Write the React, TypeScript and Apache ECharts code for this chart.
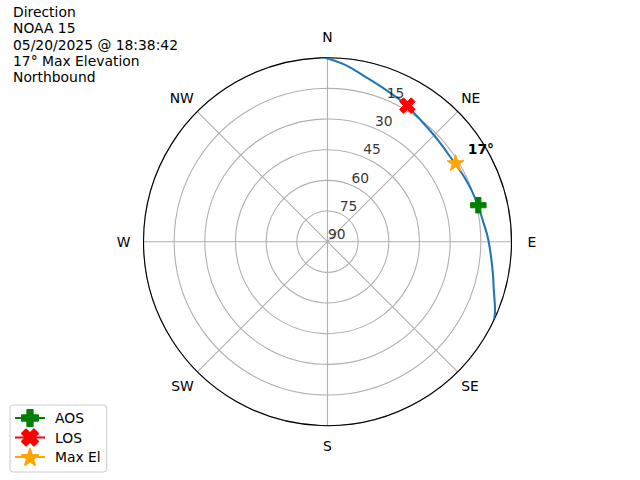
import React, { useEffect, useRef } from 'react';
import * as echarts from 'echarts';

const titleLines = ['Direction', 'NOAA 15', '05/20/2025 @ 18:38:42', '17° Max Elevation', 'Northbound'];
const directionLabels = ['N', 'NE', 'E', 'SE', 'S', 'SW', 'W', 'NW'];
const radiusTicks = [15, 30, 45, 60, 75, 90];
const labelAngle = 22.5;

const passAzimuth = [-0.8, 5.7, 12.8, 20.7, 27.1, 30.4, 37.2, 44.8, 51.1, 56.7, 60.5, 64.8, 70.3, 76.4, 82.0, 89.4, 99.7, 106.2, 112.2, 115.0];
const passElevation = [0, 3.1, 7.2, 10.3, 12.1, 13.0, 15.0, 16.3, 16.9, 17.0, 16.6, 16.0, 15.2, 14.3, 13.4, 11.3, 8.1, 5.3, 1.5, 0];

const markerNames = ['AOS', 'LOS', 'Max El'];
const markerAzimuth = [76.4, 30.4, 58.3];
const markerElevation = [14.1, 12.8, 16.4];
const maxElLabel = '17°';

const PLUS = 'path://M-1,-3L-1,-1L-3,-1L-3,1L-1,1L-1,3L1,3L1,1L3,1L3,-1L1,-1L1,-3Z';
const XMARK = 'path://M1,0L2,1L3,0L4,1L3,2L4,3L3,4L2,3L1,4L0,3L1,2L0,1Z';
const STAR = 'path://M0,-1L0.2245,-0.309L0.9511,-0.309L0.3633,0.118L0.5878,0.809L0,0.382L-0.5878,0.809L-0.3633,0.118L-0.9511,-0.309L-0.2245,-0.309Z';

export default function App() {
  const ref = useRef<HTMLDivElement>(null);
  useEffect(() => {
    const chart = echarts.init(ref.current!, null, { renderer: 'svg' });
    const font = 'DejaVu Sans';
    const fs = 13.89;
    const base = { fontFamily: font, fontSize: fs, color: '#000' };
    const markerSymbols = [PLUS, XMARK, STAR];
    const markerColors = ['#008000', '#ff0000', '#ffa500'];
    const markerSizes = [15.5, 15.5, 17];

    const markerSeries = markerNames.map((name, i) => ({
      name,
      type: 'line',
      coordinateSystem: 'polar',
      data: [[markerElevation[i], markerAzimuth[i]]],
      symbol: markerSymbols[i],
      symbolSize: markerSizes[i],
      symbolKeepAspect: true,
      showSymbol: true,
      color: markerColors[i],
      itemStyle: { color: markerColors[i], borderColor: markerColors[i], borderWidth: 1, borderJoin: 'round' },
      lineStyle: { color: markerColors[i], width: 2.08 },
      z: 5,
      label: i === 2 ? {
        show: true,
        formatter: maxElLabel,
        position: 'inside',
        align: 'left',
        verticalAlign: 'middle',
        offset: [12.2, -13.8],
        ...base,
        fontWeight: 'bold',
      } : { show: false },
    }));

    const dirKeys = ['n', 'ne', 'e', 'se', 's', 'sw', 'w', 'nw'];

    chart.setOption({
      animation: false,
      textStyle: { fontFamily: font },
      title: {
        text: titleLines.join('\n'),
        left: 13,
        top: 4,
        padding: 0,
        textStyle: { ...base, fontWeight: 'normal', lineHeight: 16.2 },
      },
      legend: {
        data: markerNames,
        orient: 'vertical',
        left: 10,
        top: 405,
        padding: [4, 6, 6, 4],
        itemWidth: 30,
        itemHeight: 20,
        itemGap: 1.5,
        borderColor: '#cccccc',
        borderWidth: 1,
        borderRadius: 3,
        backgroundColor: '#ffffff',
        textStyle: { ...base, padding: [0, 0, 0, 5] },
      },
      polar: { center: [327.5, 241.7], radius: 184 },
      angleAxis: {
        type: 'value',
        min: 0,
        max: 360,
        interval: 45,
        startAngle: 90,
        clockwise: true,
        axisLine: { show: true, lineStyle: { color: '#000', width: 1.1 } },
        axisTick: { show: false },
        splitLine: { show: true, lineStyle: { color: '#b0b0b0', width: 1.1 } },
        axisLabel: {
          margin: 5,
          ...base,
          formatter: (v: number) => {
            if (v >= 360) return '';
            const i = Math.round(v / 45) % 8;
            return `{${dirKeys[i]}|${directionLabels[i]}}`;
          },
          rich: {
            n: { ...base, padding: [0, 0, 9, 0] },
            ne: { ...base, padding: [0, 0, 3, 0] },
            e: { ...base, padding: [0, 0, 0, 11] },
            se: { ...base, padding: [4, 0, 0, 0] },
            s: { ...base, padding: [8.3, 0, 0, 0] },
            sw: { ...base, padding: [4, 0, 0, 0] },
            w: { ...base, padding: [0, 8, 0, 0] },
            nw: { ...base, padding: [0, 0, 3, 0] },
          },
        },
      },
      radiusAxis: {
        type: 'value',
        min: 0,
        max: 90,
        interval: 15,
        inverse: true,
        axisLine: { show: false },
        axisTick: { show: false },
        axisLabel: { show: false },
        splitLine: { show: true, lineStyle: { color: '#b0b0b0', width: 1.1 } },
      },
      series: [
        {
          name: 'Pass',
          type: 'line',
          coordinateSystem: 'polar',
          data: passAzimuth.map((az, i) => [passElevation[i], az]),
          showSymbol: false,
          symbol: 'none',
          smooth: 0.4,
          lineStyle: { color: '#1f77b4', width: 2.08 },
          color: '#1f77b4',
          z: 3,
        },
        {
          name: 'radius-labels',
          type: 'scatter',
          coordinateSystem: 'polar',
          data: radiusTicks.map((t) => [t, labelAngle]),
          symbolSize: 1,
          itemStyle: { color: 'transparent' },
          silent: true,
          z: 4,
          label: {
            show: true,
            position: 'inside',
            offset: [9.3, -7.3],
            ...base,
            formatter: (p: any) => String(p.value[0]),
          },
        },
        ...markerSeries,
      ],
    });
    return () => chart.dispose();
  }, []);
  return <div ref={ref} style={{ position: 'absolute', left: 0, top: 0, width: 640, height: 480 }} />;
}
